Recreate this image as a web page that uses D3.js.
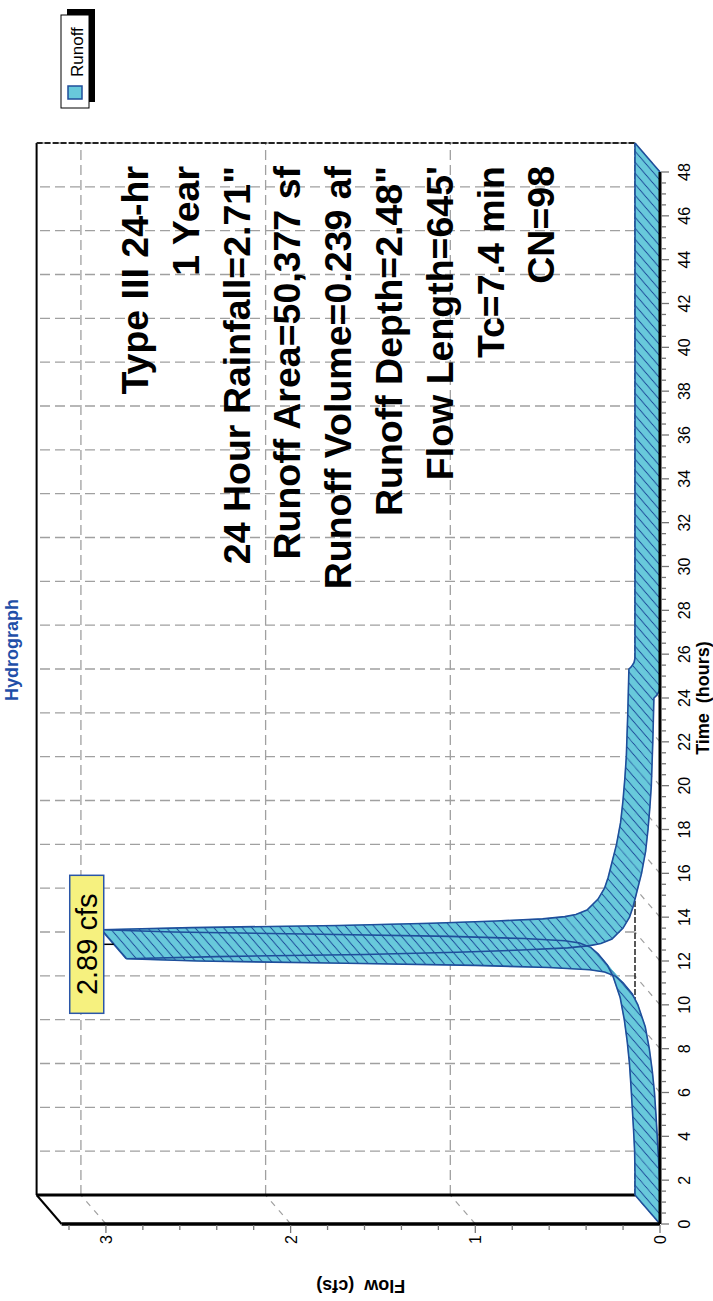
<!DOCTYPE html>
<html>
<head>
<meta charset="utf-8">
<script src="https://cdnjs.cloudflare.com/ajax/libs/d3/7.8.5/d3.min.js"></script>
<style>
body { margin: 0; background: #fff; }
text { font-family: "Liberation Sans", Arial, sans-serif; }
</style>
</head>
<body>
<div id="chart"></div>
<script>
// runoff hydrograph
const hours = [0, 1, 2, 3, 4, 5, 6, 7, 8, 9, 10, 10.5, 11, 11.3, 11.5, 11.6, 11.7, 11.8, 11.9, 12.0,
    12.1, 12.2, 12.3, 12.4, 12.5, 12.6, 12.7, 12.8, 13.0, 13.5, 14, 14.5, 15, 16, 17, 18, 19, 20,
    21, 22, 23, 24, 24.1, 24.3, 24.5, 48];
const flow = [0, 0, 0.002, 0.008, 0.015, 0.022, 0.03, 0.042, 0.058, 0.08, 0.12, 0.15, 0.2, 0.24, 0.3, 0.38, 0.6, 1.0, 1.7, 2.5,
    2.89, 2.4, 1.6, 1.1, 0.75, 0.5, 0.38, 0.32, 0.26, 0.2, 0.165, 0.145, 0.13, 0.1, 0.078, 0.065, 0.055, 0.047,
    0.043, 0.039, 0.036, 0.033, 0.02, 0.005, 0, 0];

const timeTicks = [0, 2, 4, 6, 8, 10, 12, 14, 16, 18, 20, 22, 24, 26, 28, 30, 32, 34, 36, 38, 40, 42, 44, 46, 48];
const flowTicks = [0, 1, 2, 3];

const infoLines = [
    "Type III 24-hr",
    "1 Year",
    "24 Hour Rainfall=2.71\"",
    "Runoff Area=50,377 sf",
    "Runoff Volume=0.239 af",
    "Runoff Depth=2.48\"",
    "Flow Length=645'",
    "Tc=7.4 min",
    "CN=98"
];

// chart is laid out landscape and turned a quarter left
const W = 1301, H = 713;
const dx = 29, dy = -25; // depth offset of the 3d box

const fillColor = "#68c9db";
const edgeColor = "#1f4e9b";
const gridColor = "#a0a0a0";

const svg = d3.select("#chart")
    .append("svg")
    .attr("width", H)
    .attr("height", W);

const defs = svg.append("defs");
defs.append("pattern")
    .attr("id", "hatch")
    .attr("patternUnits", "userSpaceOnUse")
    .attr("width", 11)
    .attr("height", 10)
    .attr("patternTransform", "skewX(-49.24)")
    .append("line")
    .attr("x1", 5.5).attr("y1", -1)
    .attr("x2", 5.5).attr("y2", 11)
    .attr("stroke", edgeColor)
    .attr("stroke-width", 1.5);

const g = svg.append("g")
    .attr("transform", `translate(0, ${W}) rotate(-90)`);

const x = d3.scaleLinear().domain([0, 48]).range([77, 1129]);
const y = d3.scaleLinear().domain([0, 3.24]).range([660, 61.6]);

const xMax = 48, yMax = 3.24;

// back wall grid
g.selectAll(".vgrid")
    .data(timeTicks)
    .enter()
    .append("line")
    .attr("x1", d => x(d) + dx).attr("x2", d => x(d) + dx)
    .attr("y1", y(0) + dy).attr("y2", y(yMax) + dy)
    .attr("stroke", gridColor)
    .attr("stroke-width", 1.3)
    .attr("stroke-dasharray", "10,5");

g.selectAll(".hgrid")
    .data(flowTicks.filter(d => d > 0))
    .enter()
    .append("line")
    .attr("x1", x(0) + dx).attr("x2", x(xMax) + dx)
    .attr("y1", d => y(d) + dy).attr("y2", d => y(d) + dy)
    .attr("stroke", gridColor)
    .attr("stroke-width", 1.3)
    .attr("stroke-dasharray", "10,5");

// floor and side wall grid
g.selectAll(".floorgrid")
    .data(timeTicks)
    .enter()
    .append("line")
    .attr("x1", d => x(d)).attr("y1", y(0))
    .attr("x2", d => x(d) + dx).attr("y2", y(0) + dy)
    .attr("stroke", gridColor)
    .attr("stroke-width", 1.2)
    .attr("stroke-dasharray", "6,6");

g.selectAll(".sidegrid")
    .data(flowTicks.filter(d => d > 0))
    .enter()
    .append("line")
    .attr("x1", x(0)).attr("y1", d => y(d))
    .attr("x2", x(0) + dx).attr("y2", d => y(d) + dy)
    .attr("stroke", gridColor)
    .attr("stroke-width", 1.2)
    .attr("stroke-dasharray", "6,6");

// back wall edges
g.append("line")
    .attr("x1", x(0) + dx).attr("y1", y(yMax) + dy)
    .attr("x2", x(xMax) + dx).attr("y2", y(yMax) + dy)
    .attr("stroke", "black").attr("stroke-width", 2);
g.append("line")
    .attr("x1", x(xMax) + dx).attr("y1", y(yMax) + dy)
    .attr("x2", x(xMax) + dx).attr("y2", y(0) + dy)
    .attr("stroke", "#222").attr("stroke-width", 2)
    .attr("stroke-dasharray", "6,2");
g.append("line")
    .attr("x1", x(0) + dx).attr("y1", y(0) + dy)
    .attr("x2", x(xMax) + dx).attr("y2", y(0) + dy)
    .attr("stroke", "#222").attr("stroke-width", 1.5)
    .attr("stroke-dasharray", "6,2");
g.append("line")
    .attr("x1", x(0) + dx).attr("y1", y(0) + dy)
    .attr("x2", x(0) + dx).attr("y2", y(yMax) + dy)
    .attr("stroke", "black").attr("stroke-width", 3);

// ribbon
const pts = hours.map((h, i) => ({ t: h, q: flow[i] }));
const quads = d3.pairs(pts).map(([a, b]) => [
    [x(a.t), y(a.q)],
    [x(b.t), y(b.q)],
    [x(b.t) + dx, y(b.q) + dy],
    [x(a.t) + dx, y(a.q) + dy]
]);

const ribbon = g.append("g");
quads.forEach(q => {
    ribbon.append("polygon")
        .attr("points", q.join(" "))
        .attr("fill", fillColor)
        .attr("stroke", fillColor)
        .attr("stroke-width", 0.8);
    ribbon.append("polygon")
        .attr("points", q.join(" "))
        .attr("fill", "url(#hatch)");
});

const front = d3.line().x(d => x(d.t)).y(d => y(d.q));
const back = d3.line().x(d => x(d.t) + dx).y(d => y(d.q) + dy);

ribbon.append("path")
    .attr("d", front(pts))
    .attr("fill", "none")
    .attr("stroke", edgeColor)
    .attr("stroke-width", 1.6);
ribbon.append("path")
    .attr("d", back(pts))
    .attr("fill", "none")
    .attr("stroke", edgeColor)
    .attr("stroke-width", 1.6);

const peakIdx = d3.maxIndex(flow);
[0, peakIdx, pts.length - 1].forEach(i => {
    ribbon.append("line")
        .attr("x1", x(hours[i])).attr("y1", y(flow[i]))
        .attr("x2", x(hours[i]) + dx).attr("y2", y(flow[i]) + dy)
        .attr("stroke", edgeColor)
        .attr("stroke-width", 1.6);
});

// axes
g.append("line")
    .attr("x1", x(0)).attr("y1", y(0))
    .attr("x2", x(xMax)).attr("y2", y(0))
    .attr("stroke", "black").attr("stroke-width", 3);
g.append("line")
    .attr("x1", x(0)).attr("y1", y(0))
    .attr("x2", x(0)).attr("y2", y(yMax))
    .attr("stroke", "black").attr("stroke-width", 3.5);
g.append("line")
    .attr("x1", x(0)).attr("y1", y(yMax))
    .attr("x2", x(0) + dx).attr("y2", y(yMax) + dy)
    .attr("stroke", "black").attr("stroke-width", 2);

g.selectAll(".tminor")
    .data(d3.range(0, 48.01, 0.5))
    .enter()
    .append("line")
    .attr("x1", d => x(d)).attr("x2", d => x(d))
    .attr("y1", y(0) + 1)
    .attr("y2", d => y(0) + (d % 2 === 0 ? 9 : 6))
    .attr("stroke", "#777")
    .attr("stroke-width", 1.3);

g.selectAll(".qminor")
    .data(d3.range(0, 3.21, 0.2))
    .enter()
    .append("line")
    .attr("y1", d => y(d)).attr("y2", d => y(d))
    .attr("x1", x(0) - 1)
    .attr("x2", d => x(0) - (Math.abs(d - Math.round(d)) < 0.01 ? 9 : 6))
    .attr("stroke", "#777")
    .attr("stroke-width", 1.3);

g.selectAll(".tlabel")
    .data(timeTicks)
    .enter()
    .append("text")
    .attr("x", d => x(d))
    .attr("y", 690)
    .attr("text-anchor", "middle")
    .style("font-size", "16px")
    .text(d => d);

g.selectAll(".qlabel")
    .data(flowTicks)
    .enter()
    .append("text")
    .attr("x", 66)
    .attr("y", d => y(d) + 6)
    .attr("text-anchor", "end")
    .style("font-size", "16px")
    .text(d => d);

g.append("text")
    .attr("x", x(24))
    .attr("y", 709)
    .attr("text-anchor", "middle")
    .style("font-size", "18px")
    .style("font-weight", "bold")
    .attr("xml:space", "preserve")
    .text("Time  (hours)");

g.append("text")
    .attr("transform", `translate(21, ${y(1.62)}) rotate(-90)`)
    .attr("text-anchor", "middle")
    .style("font-size", "18px")
    .style("font-weight", "bold")
    .attr("xml:space", "preserve")
    .text("Flow  (cfs)");

g.append("text")
    .attr("x", 651)
    .attr("y", 18)
    .attr("text-anchor", "middle")
    .style("font-size", "18px")
    .style("font-weight", "bold")
    .style("fill", "#1f4fa8")
    .text("Hydrograph");

// storm info block
g.selectAll(".info")
    .data(infoLines)
    .enter()
    .append("text")
    .attr("x", 1135)
    .attr("y", (d, i) => 148 + i * 50.8)
    .attr("text-anchor", "end")
    .style("font-size", "37.5px")
    .style("font-weight", "bold")
    .text(d => d);

// peak label
const px = x(hours[peakIdx]) + dx / 2;
const py = y(flow[peakIdx]) + dy / 2;
g.append("line")
    .attr("x1", px).attr("y1", py - 10)
    .attr("x2", px).attr("y2", py)
    .attr("stroke", "black").attr("stroke-width", 1.5);
g.append("rect")
    .attr("x", px - 69)
    .attr("y", py - 44)
    .attr("width", 138)
    .attr("height", 34)
    .attr("fill", "#f6f17f")
    .attr("stroke", "#2a56a8")
    .attr("stroke-width", 1.5);
g.append("text")
    .attr("x", px)
    .attr("y", py - 17)
    .attr("text-anchor", "middle")
    .style("font-size", "29px")
    .text(d3.format(".2f")(flow[peakIdx]) + " cfs");

// legend
const legend = g.append("g")
    .attr("transform", "translate(1193, 61)");
legend.append("rect")
    .attr("x", 6).attr("y", 6)
    .attr("width", 93).attr("height", 28)
    .attr("fill", "black");
legend.append("rect")
    .attr("x", 0).attr("y", 0)
    .attr("width", 93).attr("height", 28)
    .attr("fill", "white")
    .attr("stroke", "black")
    .attr("stroke-width", 1);
legend.append("rect")
    .attr("x", 9).attr("y", 7)
    .attr("width", 13).attr("height", 14)
    .attr("fill", fillColor)
    .attr("stroke", edgeColor)
    .attr("stroke-width", 1.5);
legend.append("text")
    .attr("x", 31)
    .attr("y", 22)
    .style("font-size", "17px")
    .text("Runoff");
</script>
</body>
</html>
